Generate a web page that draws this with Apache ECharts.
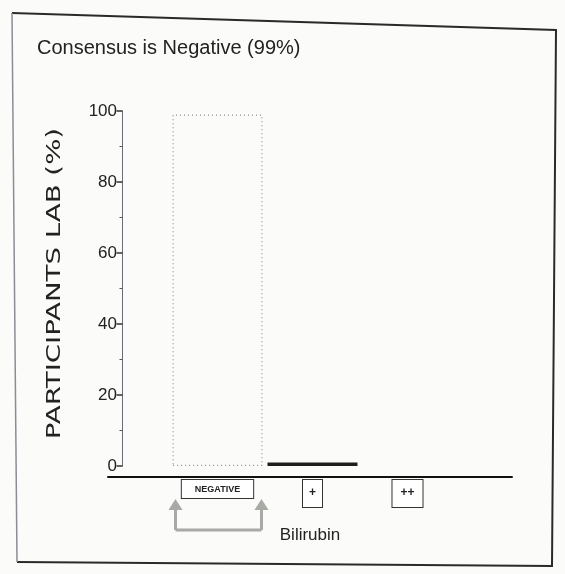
<!DOCTYPE html>
<html>
<head>
<meta charset="utf-8">
<script src="https://cdn.jsdelivr.net/npm/echarts@6/dist/echarts.min.js"></script>
<style>
html,body{margin:0;padding:0;background:#fbfbfa;}
#c{width:565px;height:574px;}
</style>
</head>
<body>
<div id="c"></div>
<script>
const categories = ['NEGATIVE', '+', '++'];
const categoryPos = [1, 2, 3];
const values = [99, 1, 0];
const yTicks = [0, 20, 40, 60, 80, 100];
const titleText = 'Consensus is Negative (99%)';
const yName = 'PARTICIPANTS LAB (%)';
const xName = 'Bilirubin';

const chart = echarts.init(document.getElementById('c'));
const styleKeys = ['neg', 'p1', 'p2'];
const barData = categories.map((c, i) => ({
  value: [categoryPos[i], values[i]],
  itemStyle: i === 0
    ? { color: '#fbfbfa', borderColor: '#8f8c89', borderWidth: 1.2, borderType: [1, 3] }
    : { color: '#1e1e1e', borderColor: '#1e1e1e', borderWidth: 0 }
}));

chart.setOption({
  backgroundColor: '#fbfbfa',
  animation: false,
  title: {
    text: titleText, left: 32, top: 33,
    textStyle: { fontFamily: 'Liberation Sans', fontSize: 20, fontWeight: 'normal', color: '#222' }
  },
  grid: { left: 108, right: 53, top: 111, bottom: 108 },
  xAxis: {
    type: 'value', min: -0.1526, max: 4.1,
    offset: 11,
    name: xName, nameLocation: 'middle', nameGap: 50,
    nameTextStyle: { fontFamily: 'Liberation Sans', fontSize: 17, color: '#222' },
    axisLine: { show: true, onZero: false, lineStyle: { color: '#111', width: 2 } },
    axisTick: { show: false },
    splitLine: { show: false },
    axisLabel: {
      customValues: categoryPos,
      margin: 3,
      formatter: v => {
        const i = categoryPos.indexOf(v);
        return i < 0 ? '' : '{' + styleKeys[i] + '|' + categories[i] + '}';
      },
      rich: {
        neg: { fontFamily: 'Liberation Sans Narrow, Liberation Sans', fontSize: 9, fontWeight: 'bold', color: '#222',
               backgroundColor: '#fff', borderColor: '#333', borderWidth: 1, padding: [5, 13, 4, 13] },
        p1: { fontFamily: 'Liberation Sans', fontSize: 12, fontWeight: 'bold', color: '#222',
              backgroundColor: '#fff', borderColor: '#333', borderWidth: 1, padding: [7, 6, 8, 6] },
        p2: { fontFamily: 'Liberation Sans', fontSize: 12, fontWeight: 'bold', color: '#222',
              backgroundColor: '#fff', borderColor: '#333', borderWidth: 1, padding: [7, 8, 8, 8] }
      }
    }
  },
  yAxis: {
    type: 'value', min: 0, max: 100, interval: 20,
    offset: -10,
    axisLine: { show: true, lineStyle: { color: '#6a6d78', width: 1 } },
    axisTick: { show: true, length: 6, lineStyle: { color: '#333', width: 1.5 } },
    minorTick: { show: true, splitNumber: 2, length: 3, lineStyle: { color: '#555' } },
    splitLine: { show: false },
    axisLabel: {
      margin: 1,
      fontFamily: 'Liberation Sans Narrow, Liberation Sans', fontSize: 17, color: '#222',
      formatter: v => yTicks.indexOf(v) >= 0 ? String(v) : ''
    }
  },
  series: [{
    type: 'bar',
    barWidth: 90,
    data: barData
  }]
});

// Annotation: bracket with up-arrows under the consensus category
const base = chart.convertToPixel({ xAxisIndex: 0, yAxisIndex: 0 }, [categoryPos[0], 0]);
const topPx = chart.convertToPixel({ yAxisIndex: 0 }, 100);
const cx = base[0], y0 = base[1] + 11;
const lx = cx - 42, rx = cx + 44;
const arrowColor = '#a8aaa6';
function arrow(x) {
  return [
    { type: 'polygon', shape: { points: [[x, y0 + 22], [x - 7, y0 + 33], [x + 7, y0 + 33]] },
      style: { fill: arrowColor } },
    { type: 'line', shape: { x1: x, y1: y0 + 32, x2: x, y2: y0 + 53 },
      style: { stroke: arrowColor, lineWidth: 3 } }
  ];
}
chart.setOption({
  graphic: [
    { type: 'polyline', shape: { points: [[12, 13], [556, 30], [552, 566], [17, 562]] },
      style: { stroke: '#2a2a2a', lineWidth: 2, fill: 'none' }, silent: true },
    { type: 'line', shape: { x1: 12, y1: 13, x2: 17, y2: 562 },
      style: { stroke: '#8a8d95', lineWidth: 1.5 }, silent: true },
    { type: 'text', x: 55, y: (base[1] + topPx) / 2 - 5, rotation: Math.PI / 2, scaleX: 1.38,
      style: { text: yName, font: '20px "DejaVu Sans"', fill: '#222', align: 'center', verticalAlign: 'middle' } },
    ...arrow(lx), ...arrow(rx),
    { type: 'line', shape: { x1: lx, y1: y0 + 53, x2: rx, y2: y0 + 53 },
      style: { stroke: arrowColor, lineWidth: 3 } }
  ]
});
</script>
</body>
</html>
